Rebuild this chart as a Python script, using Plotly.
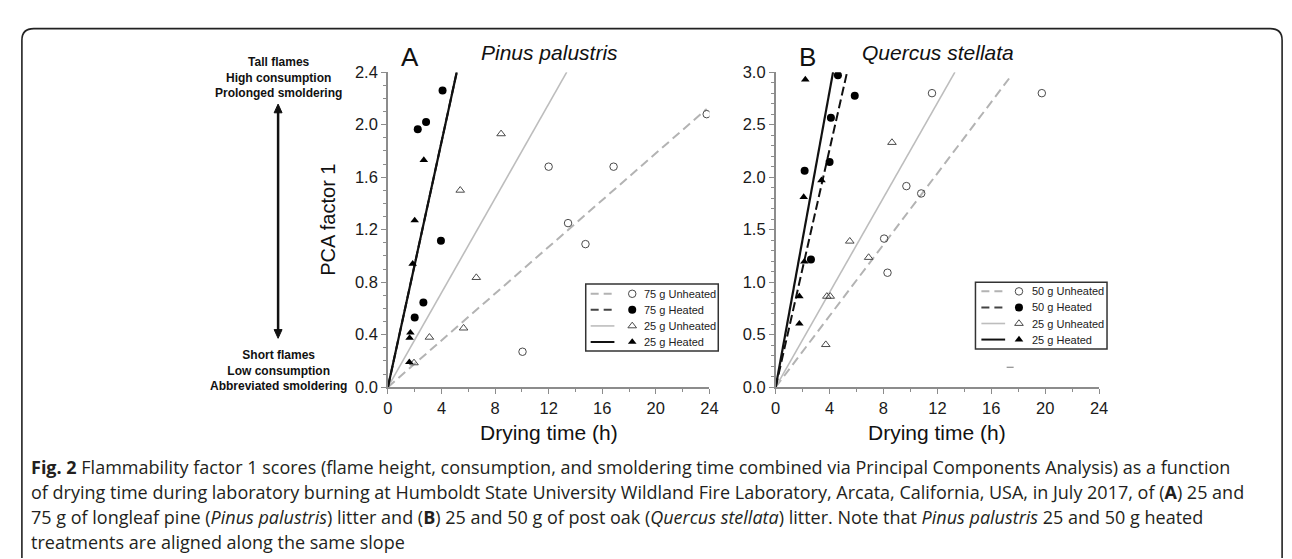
import plotly.graph_objects as go

W, H = 1292, 559

# ---------------- data ----------------
# Panel A: Pinus palustris
A_75U_x = [23.8, 12.0, 16.85, 13.45, 14.75, 10.05]
A_75U_y = [2.08, 1.68, 1.68, 1.25, 1.09, 0.27]
A_75H_x = [4.08, 2.85, 2.23, 3.96, 2.65, 2.0]
A_75H_y = [2.26, 2.02, 1.965, 1.115, 0.645, 0.53]
A_25U_x = [8.45, 5.4, 6.6, 5.65, 3.1, 1.95]
A_25U_y = [1.93, 1.50, 0.835, 0.45, 0.38, 0.185]
A_25H_x = [2.68, 2.0, 1.85, 1.68, 1.62, 1.6]
A_25H_y = [1.73, 1.27, 0.94, 0.415, 0.375, 0.19]
# fitted lines through origin: end points
A_fit_75U = ([0, 23.8], [0, 2.12])
A_fit_75H = ([0, 5.14], [0, 2.4])
A_fit_25U = ([0, 13.35], [0, 2.4])
A_fit_25H = ([0, 5.14], [0, 2.4])

# Panel B: Quercus stellata
B_50U_x = [11.6, 19.75, 9.7, 10.8, 8.05, 8.3]
B_50U_y = [2.80, 2.80, 1.915, 1.845, 1.415, 1.09]
B_50H_x = [4.62, 5.87, 4.1, 4.0, 2.15, 2.62]
B_50H_y = [2.97, 2.775, 2.565, 2.145, 2.06, 1.215]
B_25U_x = [8.63, 5.5, 6.9, 3.8, 4.05, 3.72]
B_25U_y = [2.33, 1.39, 1.235, 0.865, 0.865, 0.405]
B_25H_x = [2.2, 2.08, 3.4, 2.13, 1.76, 1.76]
B_25H_y = [2.93, 1.81, 1.97, 1.195, 0.865, 0.605]
B_fit_50U = ([0, 17.5], [0, 2.97])
B_fit_50H = ([0, 5.3], [0, 3.0])
B_fit_25U = ([0, 13.3], [0, 3.0])
B_fit_25H = ([0, 4.26], [0, 3.0])
B_stray_x = [17.4]
B_stray_y = [0.19]

A_labels = ["75 g Unheated", "75 g Heated", "25 g Unheated", "25 g Heated"]
B_labels = ["50 g Unheated", "50 g Heated", "25 g Unheated", "25 g Heated"]
x_ticks = [0, 4, 8, 12, 16, 20, 24]
A_y_ticks = [0.0, 0.4, 0.8, 1.2, 1.6, 2.0, 2.4]
B_y_ticks = [0.0, 0.5, 1.0, 1.5, 2.0, 2.5, 3.0]

# ---------------- styles ----------------
FONT = "Liberation Sans, Arial, sans-serif"
GRAY_D = dict(color="#b3b3b3", width=2, dash="9px,5px")
BLACK_D = dict(color="#111111", width=2, dash="9px,4px")
GRAY_S = dict(color="#bdbdbd", width=1.6)
BLACK_S = dict(color="#111111", width=2.2)
MK = {
    "U_c": dict(symbol="circle-open", size=7.5, color="#4a4a4a", line=dict(width=1, color="#4a4a4a")),
    "H_c": dict(symbol="circle", size=8, color="#000000"),
    "U_t": dict(symbol="triangle-up-open", size=7.5, color="#4a4a4a", line=dict(width=1, color="#4a4a4a")),
    "H_t": dict(symbol="triangle-up", size=7.5, color="#000000"),
}

fig = go.Figure()


def line(xy, style, xa, ya):
    fig.add_trace(go.Scatter(x=xy[0], y=xy[1], mode="lines", line=style,
                             xaxis=xa, yaxis=ya, showlegend=False, hoverinfo="skip"))


def pts(x, y, mk, xa, ya):
    fig.add_trace(go.Scatter(x=x, y=y, mode="markers", marker=mk,
                             xaxis=xa, yaxis=ya, showlegend=False))


# Panel A
line(A_fit_75U, GRAY_D, "x", "y")
line(A_fit_25U, GRAY_S, "x", "y")
line(A_fit_75H, BLACK_D, "x", "y")
line(A_fit_25H, BLACK_S, "x", "y")
pts(A_75U_x, A_75U_y, MK["U_c"], "x", "y")
pts(A_75H_x, A_75H_y, MK["H_c"], "x", "y")
pts(A_25U_x, A_25U_y, MK["U_t"], "x", "y")
pts(A_25H_x, A_25H_y, MK["H_t"], "x", "y")

# Panel B
line(B_fit_50U, GRAY_D, "x2", "y2")
line(B_fit_25U, GRAY_S, "x2", "y2")
line(B_fit_50H, BLACK_D, "x2", "y2")
line(B_fit_25H, BLACK_S, "x2", "y2")
pts(B_50U_x, B_50U_y, MK["U_c"], "x2", "y2")
pts(B_50H_x, B_50H_y, MK["H_c"], "x2", "y2")
pts(B_25U_x, B_25U_y, MK["U_t"], "x2", "y2")
pts(B_25H_x, B_25H_y, MK["H_t"], "x2", "y2")
pts(B_stray_x, B_stray_y, dict(symbol="line-ew", size=5, line=dict(width=1, color="#777")), "x2", "y2")

# ---------------- manual legends on a pixel overlay axis ----------------
shapes = []
annotations = []

legend_styles = [
    (dict(color="#b3b3b3", width=2, dash="8px,5px"), MK["U_c"]),
    (dict(color="#444444", width=2, dash="8px,5px"), MK["H_c"]),
    (dict(color="#bdbdbd", width=1.6), MK["U_t"]),
    (dict(color="#111111", width=2), MK["H_t"]),
]


def legend(labels, box, row_y0, row_dy, line_x, mark_x, text_x):
    x0, y0, x1, y1 = box
    shapes.append(dict(type="rect", xref="x3", yref="y3", x0=x0, y0=y0, x1=x1, y1=y1,
                       line=dict(color="#333333", width=1.5), fillcolor="white", layer="below"))
    for i, lab in enumerate(labels):
        ry = row_y0 + i * row_dy
        lst, mk = legend_styles[i]
        fig.add_trace(go.Scatter(x=list(line_x), y=[ry, ry], mode="lines", line=lst,
                                 xaxis="x3", yaxis="y3", showlegend=False, hoverinfo="skip"))
        fig.add_trace(go.Scatter(x=[mark_x], y=[ry], mode="markers", marker=mk,
                                 xaxis="x3", yaxis="y3", showlegend=False, hoverinfo="skip"))
        annotations.append(dict(x=text_x, y=ry, xref="x3", yref="y3", text=lab, showarrow=False,
                                xanchor="left", yanchor="middle",
                                font=dict(family=FONT, size=11, color="#222")))


legend(A_labels, (579, 276, 713, 345), 286, 16.6, (584, 608), 626, 636)
legend(B_labels, (973, 274, 1106, 343), 283.5, 16.6, (979, 1003), 1017, 1028)

# ---------------- frame, arrow ----------------
shapes.append(dict(type="path", xref="x3", yref="y3",
                   path="M 9,562 L 9,24 Q 9,12 21,12 L 1271,12 Q 1283,12 1283,24 L 1283,562",
                   line=dict(color="#222", width=1.6)))
shapes.append(dict(type="line", xref="x3", yref="y3", x0=268, x1=268, y0=97, y1=325,
                   line=dict(color="#111", width=2.5)))
shapes.append(dict(type="path", xref="x3", yref="y3", path="M 264,99 L 272,99 L 268,90 Z",
                   fillcolor="#111", line=dict(color="#111", width=1)))
shapes.append(dict(type="path", xref="x3", yref="y3", path="M 264,323 L 272,323 L 268,332 Z",
                   fillcolor="#111", line=dict(color="#111", width=1)))


def ann(x, y, text, size, **kw):
    d = dict(x=x, y=y, xref="x3", yref="y3", text=text, showarrow=False,
             xanchor="center", yanchor="middle", font=dict(family=FONT, size=size, color="#111"))
    d.update(kw)
    annotations.append(d)


ann(268, 62, "<b>Tall flames<br>High consumption<br>Prolonged smoldering</b>", 12)
ann(268, 365, "<b>Short flames<br>Low consumption<br>Abbreviated smoldering</b>", 12)
ann(319, 210, "PCA factor 1", 20, textangle=-90)
ann(401, 41, "A", 26)
ann(803.5, 41, "B", 26)
ann(542.5, 37, "<i>Pinus palustris</i>", 21)
ann(935, 37, "<i>Quercus stellata</i>", 21)
ann(541.5, 429, "Drying time (h)", 21)
ann(934.5, 429, "Drying time (h)", 21)

CAP = "Open Sans, Noto Sans, sans-serif"
cap_lines = [
    "<b>Fig. 2</b> Flammability factor 1 scores (flame height, consumption, and smoldering time combined via Principal Components Analysis) as a function",
    "of drying time during laboratory burning at Humboldt State University Wildland Fire Laboratory, Arcata, California, USA, in July 2017, of (<b>A</b>) 25 and",
    "75 g of longleaf pine (<i>Pinus palustris</i>) litter and (<b>B</b>) 25 and 50 g of post oak (<i>Quercus stellata</i>) litter. Note that <i>Pinus palustris</i> 25 and 50 g heated",
    "treatments are aligned along the same slope",
]
for i, t in enumerate(cap_lines):
    annotations.append(dict(x=16, y=465 + i * 25.7, xref="x3", yref="y3", text=t, showarrow=False,
                            xanchor="left", yanchor="middle",
                            font=dict(family=CAP, size=18, color="#231f20")))

# ---------------- axes ----------------
def xax(dom0, dom1, anchor):
    return dict(domain=[dom0 / W, dom1 / W], range=[0, 24], anchor=anchor,
                tickmode="array", tickvals=x_ticks, ticktext=[str(v) for v in x_ticks],
                showline=True, linecolor="#8c8c8c", linewidth=1.5, ticks="outside", ticklen=5,
                tickwidth=1.2, tickcolor="#8c8c8c", showgrid=False, zeroline=False,
                minor=dict(ticks="outside", dtick=2, ticklen=3, tickcolor="#8c8c8c", tickwidth=1),
                tickfont=dict(family=FONT, size=16.5, color="#1a1a1a"), fixedrange=True)


def yax(rng, ticks, anchor):
    return dict(domain=[1 - 382.5 / H, 1 - 57 / H], range=rng, anchor=anchor,
                tickmode="array", tickvals=ticks, ticktext=[f"{v:.1f}" for v in ticks],
                showline=True, linecolor="#8c8c8c", linewidth=1.5, ticks="outside", ticklen=5,
                tickwidth=1.2, tickcolor="#8c8c8c", showgrid=False, zeroline=False,
                minor=dict(ticks="outside", dtick=0.1, ticklen=3, tickcolor="#8c8c8c", tickwidth=1),
                tickfont=dict(family=FONT, size=16.5, color="#1a1a1a"), fixedrange=True)


fig.update_layout(
    width=W, height=H, autosize=False,
    margin=dict(l=0, r=0, t=0, b=0),
    paper_bgcolor="white", plot_bgcolor="rgba(0,0,0,0)",
    showlegend=False,
    xaxis=xax(379, 704, "y"),
    yaxis=yax([0, 2.4], A_y_ticks, "x"),
    xaxis2=xax(771, 1098, "y2"),
    yaxis2=yax([0, 3.0], B_y_ticks, "x2"),
    xaxis3=dict(domain=[0, 1], range=[0, W], anchor="y3", visible=False, fixedrange=True),
    yaxis3=dict(domain=[0, 1], range=[H, 0], anchor="x3", visible=False, fixedrange=True),
    shapes=shapes,
    annotations=annotations,
)

fig.write_html("out.html")
